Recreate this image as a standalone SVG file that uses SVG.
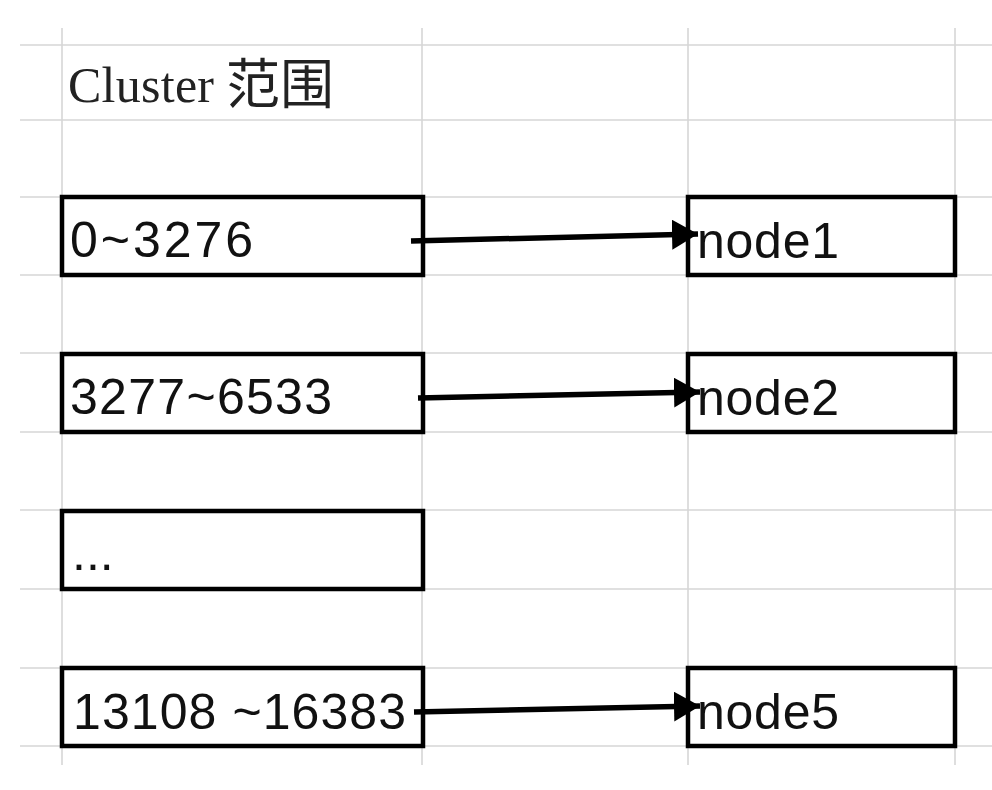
<svg xmlns="http://www.w3.org/2000/svg" width="992" height="790" viewBox="0 0 992 790">
<style>
.grid{stroke:#d6d6d6;stroke-width:1.6;fill:none}
.box{fill:#ffffff;stroke:#000;stroke-width:4.5}
.lbl{font-family:"Liberation Sans","Noto Sans",sans-serif;font-size:50px;fill:#111}
.conn{stroke:#000;stroke-width:5.5;fill:none;marker-end:url(#ah)}
</style>
<defs>
<marker id="ah" markerUnits="userSpaceOnUse" markerWidth="32" markerHeight="34" refX="26" refY="15" orient="auto">
<path d="M0,0 L26,15 L0,30 Z" fill="#000"/>
</marker>
</defs>
<rect width="992" height="790" fill="#fff"/>
<g id="grid">
<path class="grid" d="M20,45H992M20,120H992M20,197H992M20,275H992M20,353H992M20,432H992M20,510H992M20,589H992M20,668H992M20,746H992"/>
<path class="grid" d="M62,28V765M422,28V765M688,28V765M955,28V765"/>
</g>
<g id="title">
<text x="68" y="102" style="font-family:'Liberation Serif',serif;font-size:50px;fill:#222" textLength="146">Cluster</text>
<text x="226" y="104" style="font-family:'Noto Sans CJK SC',sans-serif;font-size:54px;fill:#222">范围</text>
</g>
<g id="r1"><rect class="box" x="62" y="197" width="361" height="78"/><text class="lbl" x="70" y="257" textLength="183">0~3276</text></g>
<g id="r2"><rect class="box" x="62" y="354" width="361" height="78"/><text class="lbl" x="70" y="414" textLength="262">3277~6533</text></g>
<g id="r3"><rect class="box" x="62" y="511" width="361" height="78"/><text class="lbl" x="72" y="570">...</text></g>
<g id="r4"><rect class="box" x="62" y="668" width="361" height="78"/><text class="lbl" x="73" y="729" textLength="333">13108 ~16383</text></g>
<g id="n1"><rect class="box" x="688" y="197" width="267" height="78"/><text class="lbl" x="697" y="258" textLength="142">node1</text></g>
<g id="n2"><rect class="box" x="688" y="354" width="267" height="78"/><text class="lbl" x="697" y="415" textLength="142">node2</text></g>
<g id="n5"><rect class="box" x="688" y="668" width="267" height="78"/><text class="lbl" x="697" y="729" textLength="142">node5</text></g>
<g id="connectors">
<path class="conn" d="M411,241 L698,234"/>
<path class="conn" d="M418,398 L700,392"/>
<path class="conn" d="M414,712 L700,706"/>
</g>
</svg>
